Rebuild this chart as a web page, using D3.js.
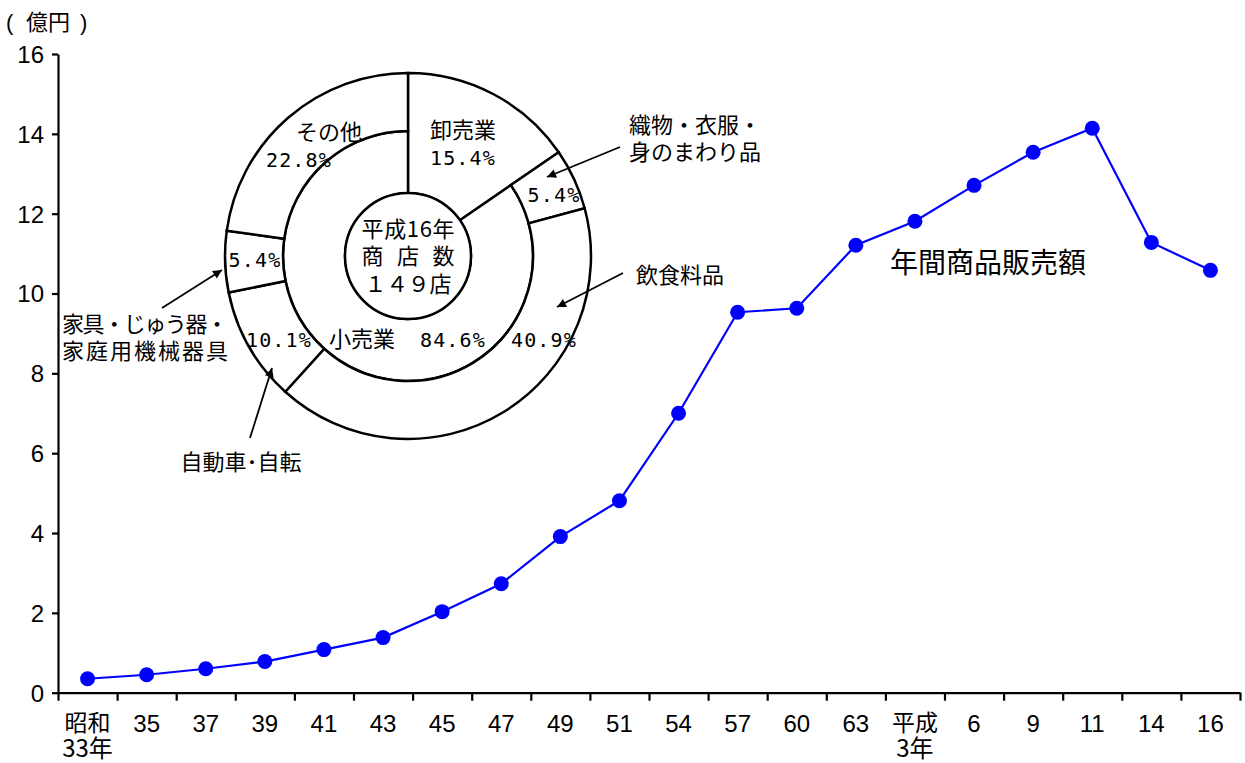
<!DOCTYPE html>
<html>
<head>
<meta charset="utf-8">
<script src="https://cdn.jsdelivr.net/npm/d3@7"></script>
<style>
  html, body { margin: 0; padding: 0; background: #fff; }
  svg { display: block; }
  .jp { font-family: "Noto Sans CJK JP", sans-serif; fill: #000; }
  .num { font-family: "Liberation Sans Narrow", "Arial Narrow", "Liberation Sans", sans-serif; fill: #000; }
  .pct { font-family: "DejaVu Sans Mono", monospace; fill: #000; letter-spacing: 1.2px; }
</style>
</head>
<body>
<svg id="chart" width="1245" height="763"></svg>
<script>
// 年間商品販売額 (億円)
var years = ["昭和|33年", "35", "37", "39", "41", "43", "45", "47", "49", "51",
             "54", "57", "60", "63", "平成|3年", "6", "9", "11", "14", "16"];
var sales = [0.35, 0.45, 0.6, 0.78, 1.08, 1.38, 2.03, 2.73, 3.91, 4.81,
             7.0, 9.53, 9.63, 11.21, 11.81, 12.71, 13.54, 14.14, 11.28, 10.58];
var yTicks = [0, 2, 4, 6, 8, 10, 12, 14, 16];

// 平成16年 商店数の内訳 (%)
var tradeCats = ["卸売業", "小売業"];
var tradePct = [15.4, 84.6];
var retailCats = ["織物・衣服・身のまわり品", "飲食料品", "自動車･自転", "家具・じゅう器・家庭用機械器具", "その他"];
var retailPct = [5.4, 40.9, 10.1, 5.4, 22.8];

var svg = d3.select("#chart");

var x = d3.scaleLinear().domain([0, years.length]).range([58, 1240]);
var y = d3.scaleLinear().domain([0, 16]).range([692.7, 54]);

// axes
var yAxis = svg.append("g")
    .attr("transform", "translate(58,0)")
    .call(d3.axisLeft(y).tickValues(yTicks).tickSize(6).tickSizeOuter(0).tickPadding(8));
yAxis.selectAll("line, path").attr("stroke", "#000").attr("stroke-width", 2.2);
yAxis.selectAll("text").attr("class", "num").attr("font-size", 24).attr("dy", "0.35em");

var xAxis = svg.append("g")
    .attr("transform", "translate(0,692.7)")
    .call(d3.axisBottom(x).tickValues(d3.range(years.length + 1)).tickFormat("").tickSize(8).tickSizeOuter(0));
xAxis.selectAll("line, path").attr("stroke", "#000").attr("stroke-width", 2.2);

var xl = svg.append("g");
years.forEach(function (lab, i) {
    var parts = lab.split("|");
    var t = xl.append("text")
        .attr("text-anchor", "middle")
        .attr("x", x(i + 0.5))
        .attr("y", 732);
    if (parts.length > 1) {
        t.style("font-family", '"Liberation Sans Narrow", "Noto Sans CJK JP", sans-serif')
            .attr("font-size", 23);
        t.append("tspan").attr("x", x(i + 0.5)).attr("y", 731).text(parts[0]);
        t.append("tspan").attr("x", x(i + 0.5)).attr("y", 757).attr("font-size", 24).text(parts[1]);
    } else {
        t.attr("class", "num").attr("font-size", 24).text(lab);
    }
});

// unit label
var unit = svg.append("text").attr("class", "jp").attr("font-size", 22).attr("y", 30);
unit.append("tspan").attr("x", 6).style("font-family", '"Liberation Sans", sans-serif').text("(");
unit.append("tspan").attr("x", 26).text("億円");
unit.append("tspan").attr("x", 80).style("font-family", '"Liberation Sans", sans-serif').text(")");

// line
var line = d3.line()
    .x(function (d, i) { return x(i + 0.5); })
    .y(function (d) { return y(d); });

svg.append("path")
    .datum(sales)
    .attr("d", line)
    .attr("fill", "none")
    .attr("stroke", "#0000ff")
    .attr("stroke-width", 2.2);

svg.selectAll("circle.pt")
    .data(sales)
    .enter()
    .append("circle")
    .attr("class", "pt")
    .attr("cx", function (d, i) { return x(i + 0.5); })
    .attr("cy", function (d) { return y(d); })
    .attr("r", 7.5)
    .attr("fill", "#0000ff");

svg.append("text").attr("class", "jp").attr("font-size", 28)
    .attr("x", 988).attr("y", 273).attr("text-anchor", "middle")
    .text("年間商品販売額");

// donut
var cx = 408, cy = 256;
var r0 = 63, r1 = 125, r2 = 183;
var tau = 2 * Math.PI;
var donut = svg.append("g").attr("transform", "translate(" + cx + "," + cy + ")");

var tradeArcs = d3.pie().sort(null).value(function (d) { return d; })(tradePct);
var wholesaleEnd = tradeArcs[0].endAngle;

var retailArcs = d3.pie().sort(null).value(function (d) { return d; })
    .startAngle(wholesaleEnd).endAngle(tau)(retailPct);

var arc = d3.arc();
var strokeW = 2.5;

// 卸売業: full depth
donut.append("path")
    .attr("d", arc({ innerRadius: r0, outerRadius: r2, startAngle: tradeArcs[0].startAngle, endAngle: tradeArcs[0].endAngle }))
    .attr("fill", "#fff").attr("stroke", "#000").attr("stroke-width", strokeW);
// 小売業: inner ring
donut.append("path")
    .attr("d", arc({ innerRadius: r0, outerRadius: r1, startAngle: tradeArcs[1].startAngle, endAngle: tradeArcs[1].endAngle }))
    .attr("fill", "#fff").attr("stroke", "#000").attr("stroke-width", strokeW);
// 小売業の内訳: outer ring
donut.selectAll("path.retail")
    .data(retailArcs)
    .enter()
    .append("path")
    .attr("class", "retail")
    .attr("d", function (d) { return arc({ innerRadius: r1, outerRadius: r2, startAngle: d.startAngle, endAngle: d.endAngle }); })
    .attr("fill", "#fff").attr("stroke", "#000").attr("stroke-width", strokeW);

// center circle
donut.append("circle").attr("r", r0).attr("fill", "#fff").attr("stroke", "#000").attr("stroke-width", strokeW);

var centerLines = [["平成16年", 237, 93], ["商 店 数", 264, 93], ["１４９店", 292, 87]];
centerLines.forEach(function (c) {
    svg.append("text").attr("class", "jp").attr("font-size", 22)
        .attr("x", cx).attr("y", c[1]).attr("text-anchor", "middle")
        .attr("textLength", c[2]).attr("lengthAdjust", "spacing")
        .text(c[0]);
});

function pctText(v) { return v.toFixed(1) + "%"; }

// donut labels
var jpLabels = [
    { t: tradeCats[0], x: 463, y: 138 },
    { t: "その他", x: 329, y: 140 },
    { t: tradeCats[1], x: 362, y: 347 }
];
jpLabels.forEach(function (l) {
    svg.append("text").attr("class", "jp").attr("font-size", 22)
        .attr("x", l.x).attr("y", l.y).attr("text-anchor", "middle").text(l.t);
});

var pctLabels = [
    { v: tradePct[0], x: 463, y: 165 },
    { v: tradePct[1], x: 453, y: 347 },
    { v: retailPct[0], x: 554, y: 202 },
    { v: retailPct[1], x: 544, y: 347 },
    { v: retailPct[2], x: 279, y: 347 },
    { v: retailPct[3], x: 255, y: 267 },
    { v: retailPct[4], x: 299, y: 167 }
];
pctLabels.forEach(function (l) {
    svg.append("text").attr("class", "pct").attr("font-size", 20)
        .attr("x", l.x).attr("y", l.y).attr("text-anchor", "middle").text(pctText(l.v));
});

// callouts
svg.append("defs").append("marker")
    .attr("id", "arrow")
    .attr("viewBox", "0 0 10 10")
    .attr("refX", 10).attr("refY", 5)
    .attr("markerWidth", 7).attr("markerHeight", 5)
    .attr("markerUnits", "strokeWidth")
    .attr("orient", "auto")
    .append("path").attr("d", "M0,0L10,5L0,10Z").attr("fill", "#000");

var callouts = [
    { lines: ["織物・衣服・", "身のまわり品"], x: 695, y: 133, a: [620, 147, 547, 177] },
    { lines: [retailCats[1]], x: 680, y: 283, a: [623, 273, 557, 307] },
    { lines: ["家具・じゅう器・", "家庭用機械器具"], x: 145, y: 332, a: [162, 308, 222, 270], len: 166 },
    { lines: [retailCats[2]], x: 241, y: 470, a: [250, 438, 272, 368] }
];
callouts.forEach(function (c) {
    var t = svg.append("text").attr("class", "jp").attr("font-size", 22)
        .attr("text-anchor", "middle");
    c.lines.forEach(function (s, k) {
        var ts = t.append("tspan").attr("x", c.x).attr("y", c.y + k * 27).text(s);
        if (c.len) ts.attr("textLength", c.len).attr("lengthAdjust", "spacing");
    });
    svg.append("line")
        .attr("x1", c.a[0]).attr("y1", c.a[1]).attr("x2", c.a[2]).attr("y2", c.a[3])
        .attr("stroke", "#000").attr("stroke-width", 1.8)
        .attr("marker-end", "url(#arrow)");
});
</script>
</body>
</html>
